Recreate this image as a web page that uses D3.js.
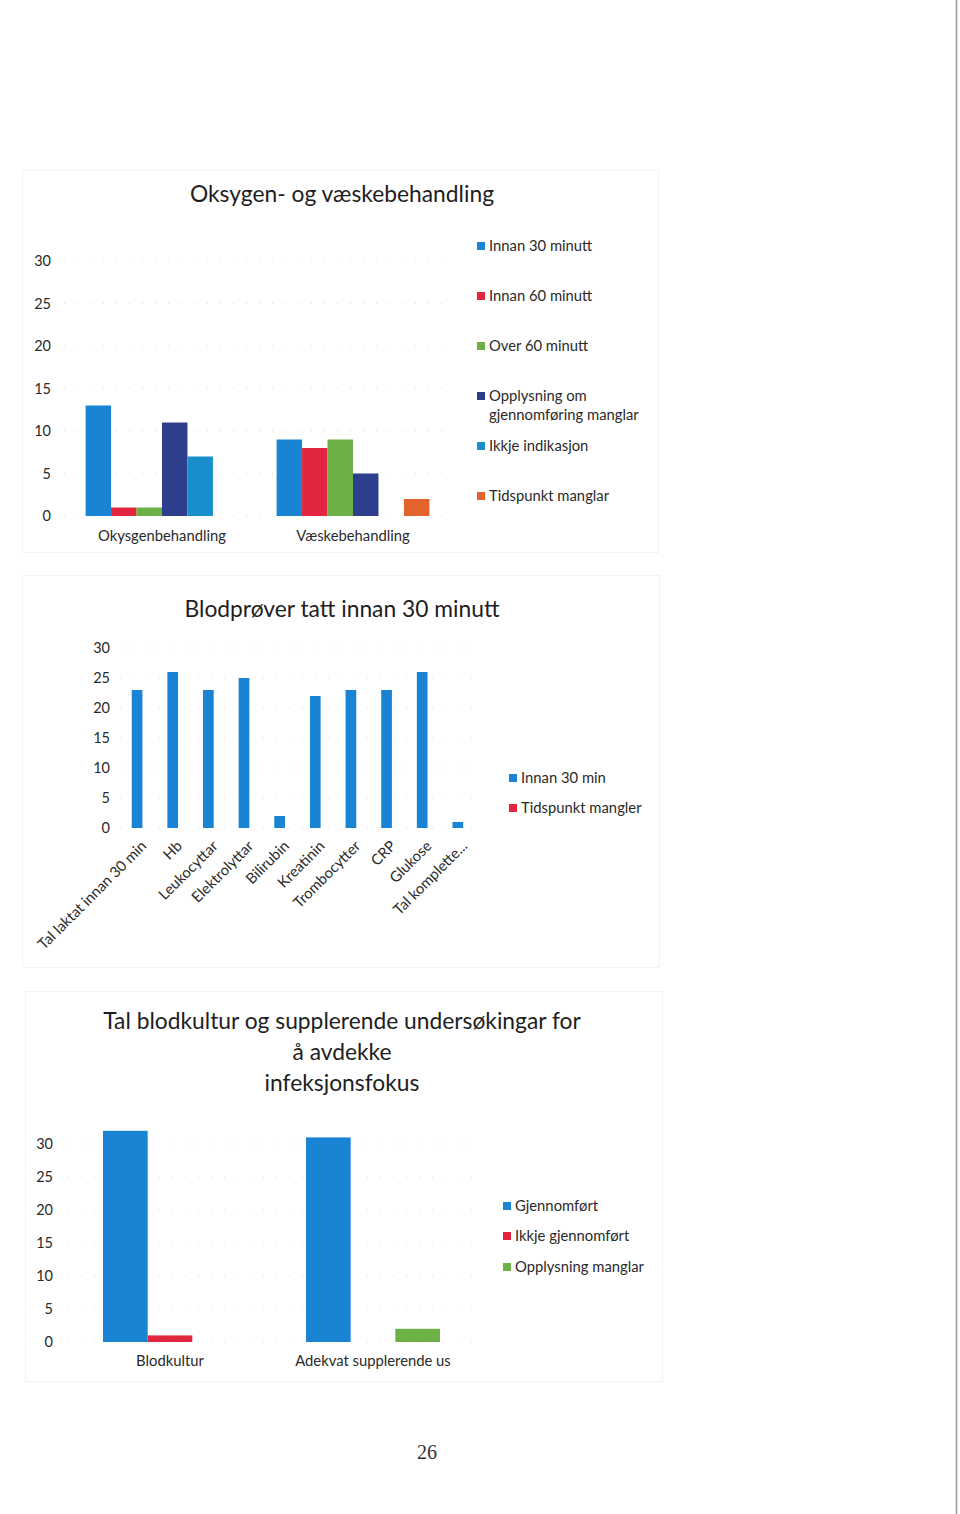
<!DOCTYPE html>
<head>
  <meta charset="utf-8">
  <title>Oksygen, blodprøver og blodkultur</title>
  <style>
    body {
      margin: 0;
      padding: 0;
      background-color: #fff;
      font-family: 'Lato', sans-serif;
    }

    .title {
      fill: #1e1e1e;
      font-size: 22.8px;
      text-anchor: middle;
    }

    .tick-label {
      fill: #2a2a2a;
      font-size: 14.5px;
    }

    .cat-label, .legend text {
      fill: #2a2a2a;
      font-size: 14.8px;
    }

    .grid line {
      stroke: #dadada;
      stroke-dasharray: 1,12;
    }

    .frame {
      fill: none;
      stroke: #f3f3f3;
    }
  </style>
</head>
<body>
  <div id='vis'></div>

  <script src="https://cdn.jsdelivr.net/npm/d3@7/dist/d3.min.js"></script>
  <script>
    // chart 1: Oksygen- og væskebehandling
    var cats1 = ["Okysgenbehandling", "Væskebehandling"];
    var series1 = ["Innan 30 minutt", "Innan 60 minutt", "Over 60 minutt",
                   "Opplysning om gjennomføring manglar", "Ikkje indikasjon", "Tidspunkt manglar"];
    var values1 = [[13, 9], [1, 8], [1, 9], [11, 5], [7, 0], [0, 2]];

    // chart 2: Blodprøver tatt innan 30 minutt
    var cats2 = ["Tal laktat innan 30 min", "Hb", "Leukocyttar", "Elektrolyttar", "Bilirubin",
                 "Kreatinin", "Trombocytter", "CRP", "Glukose", "Tal komplette..."];
    var series2 = ["Innan 30 min", "Tidspunkt mangler"];
    var values2 = [[23, 26, 23, 25, 2, 22, 23, 23, 26, 1], [0, 0, 0, 0, 0, 0, 0, 0, 0, 0]];

    // chart 3: Tal blodkultur og supplerande undersøkingar
    var cats3 = ["Blodkultur", "Adekvat supplerende us"];
    var series3 = ["Gjennomført", "Ikkje gjennomført", "Opplysning manglar"];
    var values3 = [[32, 31], [1, 0], [0, 2]];

    var yTicks = [0, 5, 10, 15, 20, 25, 30];

    var blue = "#1a84d4", red = "#e3263f", green = "#6db046",
        navy = "#2c3e8c", teal = "#1a8dcb", orange = "#e2632b";

    var svg = d3.select("#vis").append("svg")
      .attr("width", 960)
      .attr("height", 1514);

    // page edge from the scan
    svg.append("line")
      .attr("x1", 956.5).attr("x2", 956.5)
      .attr("y1", 0).attr("y2", 1514)
      .attr("stroke", "#9a9a9a")
      .attr("stroke-width", 1.5);

    function drawChart(c) {
      var g = svg.append("g");

      g.append("rect")
        .attr("class", "frame")
        .attr("x", c.frame[0]).attr("y", c.frame[1])
        .attr("width", c.frame[2]).attr("height", c.frame[3]);

      c.title.forEach(function(t, i) {
        g.append("text")
          .attr("class", "title")
          .attr("x", c.titleX)
          .attr("y", c.titleY + i * 31)
          .text(t);
      });

      var y = d3.scaleLinear().domain([0, 30]).range(c.yRange);
      var x0 = d3.scaleBand().domain(c.cats).range(c.xRange)
        .paddingInner(c.padIn).paddingOuter(c.padOut);
      var x1 = d3.scaleBand().domain(d3.range(c.series.length)).range([0, x0.bandwidth()]);

      g.append("g").attr("class", "grid")
        .selectAll("line")
        .data(yTicks)
        .enter().append("line")
          .attr("x1", c.gridX[0]).attr("x2", c.gridX[1])
          .attr("y1", function(d) { return y(d); })
          .attr("y2", function(d) { return y(d); });

      g.append("g")
        .selectAll("text")
        .data(yTicks)
        .enter().append("text")
          .attr("class", "tick-label")
          .attr("x", c.yLabelX)
          .attr("y", function(d) { return y(d) + 5; })
          .attr("text-anchor", "end")
          .text(function(d) { return d; });

      c.series.forEach(function(s, si) {
        g.append("g")
          .selectAll("rect")
          .data(c.values[si])
          .enter().append("rect")
            .attr("x", function(d, i) { return x0(c.cats[i]) + x1(si); })
            .attr("y", function(d) { return y(d); })
            .attr("width", x1.bandwidth())
            .attr("height", function(d) { return y(0) - y(d); })
            .attr("fill", c.colors[si]);
      });

      var labels = g.append("g")
        .selectAll("text")
        .data(c.cats)
        .enter().append("text")
          .attr("class", "cat-label")
          .text(function(d) { return d; });

      if (c.rotate) {
        labels
          .attr("text-anchor", "end")
          .attr("transform", function(d) {
            return "translate(" + [x0(d) + x0.bandwidth() / 2 + 5, c.catY] + ") rotate(-45)";
          });
      } else {
        labels
          .attr("text-anchor", "middle")
          .attr("x", function(d) { return x0(d) + x0.bandwidth() / 2; })
          .attr("y", c.catY);
      }

      var legend = g.append("g").attr("class", "legend")
        .selectAll("g")
        .data(c.series)
        .enter().append("g")
          .attr("transform", function(d, i) { return "translate(" + [c.legX, c.legY[i]] + ")"; });

      legend.append("rect")
        .attr("x", 0).attr("y", -9)
        .attr("width", 8).attr("height", 8)
        .attr("fill", function(d, i) { return c.colors[i]; });

      legend.append("text")
        .attr("x", 12)
        .attr("y", 0)
        .each(function(d) {
          var lines = c.legWrap[d] || [d];
          var t = d3.select(this);
          lines.forEach(function(l, k) {
            t.append("tspan").attr("x", 12).attr("dy", k ? 19 : 0).text(l);
          });
        });
    }

    drawChart({
      frame: [22.5, 170.5, 636, 382],
      title: ["Oksygen- og væskebehandling"], titleX: 342, titleY: 202,
      cats: cats1, series: series1, values: values1,
      colors: [blue, red, green, navy, teal, orange],
      yRange: [516, 261], xRange: [66.5, 448.5], padIn: 0.2, padOut: 0.1,
      gridX: [64, 448], yLabelX: 51, catY: 541, rotate: false,
      legX: 477, legY: [251, 301, 351, 401, 451, 501],
      legWrap: {"Opplysning om gjennomføring manglar": ["Opplysning om", "gjennomføring manglar"]}
    });

    drawChart({
      frame: [22.5, 575.5, 637, 392],
      title: ["Blodprøver tatt innan 30 minutt"], titleX: 342, titleY: 617,
      cats: cats2, series: series2, values: values2,
      colors: [blue, red],
      yRange: [828, 648], xRange: [124.6, 481], padIn: 0.4, padOut: 0.2,
      gridX: [120, 482], yLabelX: 110, catY: 847, rotate: true,
      legX: 509, legY: [783, 813], legWrap: {}
    });

    drawChart({
      frame: [25.5, 991.5, 637, 390],
      title: ["Tal blodkultur og supplerende undersøkingar for", "å avdekke", "infeksjonsfokus"],
      titleX: 342, titleY: 1029,
      cats: cats3, series: series3, values: values3,
      colors: [blue, red, green],
      yRange: [1342, 1144], xRange: [68.5, 474.5], padIn: 0.34, padOut: 0.17,
      gridX: [68, 478], yLabelX: 53, catY: 1366, rotate: false,
      legX: 503, legY: [1211, 1241, 1272], legWrap: {}
    });

    svg.append("text")
      .attr("x", 427)
      .attr("y", 1459)
      .attr("text-anchor", "middle")
      .attr("font-family", "'Liberation Serif', serif")
      .attr("font-size", 20)
      .attr("fill", "#333")
      .text("26");
  </script>
</body>
